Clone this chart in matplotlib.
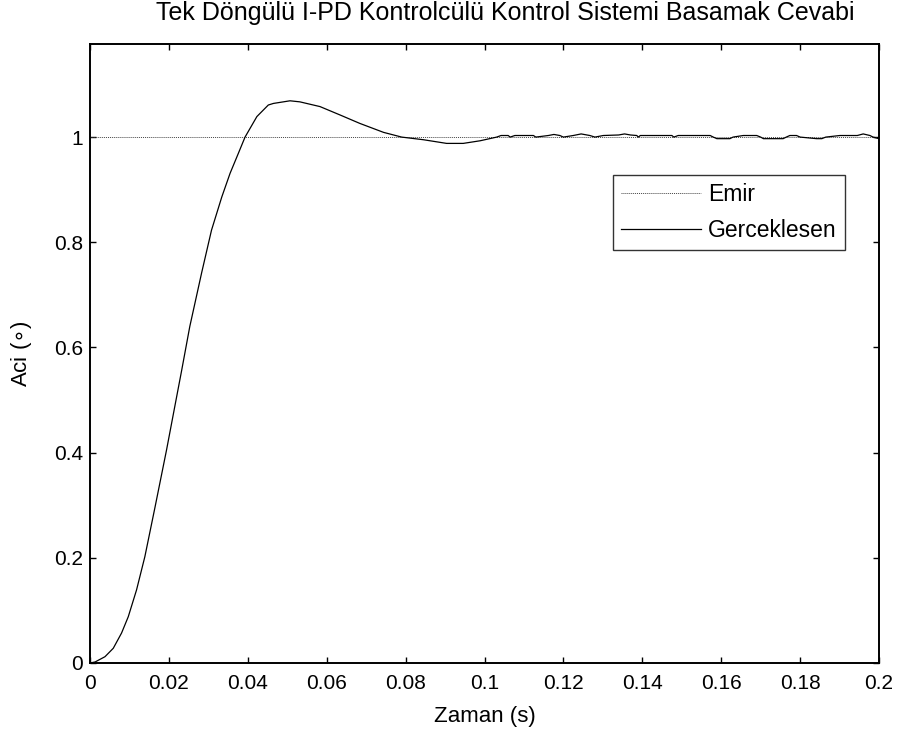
import matplotlib.pyplot as plt
from matplotlib.ticker import FormatStrFormatter

plt.rcParams['font.family'] = ['Liberation Sans', 'DejaVu Sans']

# emir (referans) sinyali
emir_t = [0, 0.2]
emir_v = [1, 1]

# gerceklesen cevap, grafikten okunan noktalar
cevap_t = [0, 0.0013, 0.0038, 0.0059, 0.008, 0.0097, 0.0118, 0.0139, 0.0165,
           0.0194, 0.0215, 0.0232, 0.0253, 0.0283, 0.0308, 0.0334, 0.0355,
           0.0376, 0.0393, 0.0423, 0.0452, 0.0465, 0.0507, 0.0532, 0.0583,
           0.0634, 0.0684, 0.0744, 0.079, 0.0845, 0.0904, 0.0946, 0.0989,
           0.1031, 0.1042, 0.106, 0.1065, 0.1077, 0.1124, 0.113, 0.1162,
           0.1176, 0.1191, 0.12, 0.1225, 0.1245, 0.1267, 0.128, 0.1301,
           0.134, 0.1355, 0.137, 0.1386, 0.139, 0.1395, 0.1475, 0.148,
           0.1491, 0.1572, 0.158, 0.1589, 0.1622, 0.163, 0.1656, 0.169,
           0.17, 0.1707, 0.1757, 0.1765, 0.1774, 0.1791, 0.18, 0.1842,
           0.1855, 0.1865, 0.1901, 0.1945, 0.196, 0.1977, 0.1985, 0.2]
cevap_v = [0, 0.002, 0.012, 0.028, 0.057, 0.088, 0.139, 0.202, 0.297,
           0.405, 0.488, 0.555, 0.640, 0.742, 0.823, 0.886, 0.931,
           0.969, 1.0, 1.039, 1.061, 1.064, 1.069, 1.067, 1.058,
           1.042, 1.026, 1.009, 1.0, 0.995, 0.988, 0.988, 0.993,
           1.0, 1.003, 1.003, 1.0, 1.003, 1.003, 1.0, 1.003,
           1.005, 1.003, 1.0, 1.003, 1.006, 1.003, 1.0, 1.003,
           1.004, 1.006, 1.004, 1.003, 1.0, 1.003, 1.003, 1.0,
           1.003, 1.003, 1.0, 0.997, 0.997, 1.0, 1.003, 1.003,
           1.0, 0.997, 0.997, 1.0, 1.003, 1.003, 1.0, 0.997,
           0.997, 1.0, 1.003, 1.003, 1.006, 1.003, 1.0, 0.997]

x_ticks = [0, 0.02, 0.04, 0.06, 0.08, 0.1, 0.12, 0.14, 0.16, 0.18, 0.2]
y_ticks = [0, 0.2, 0.4, 0.6, 0.8, 1]

fig = plt.figure(figsize=(8.99, 7.34), dpi=100)
ax = fig.add_axes([90 / 899, 71 / 734, 789 / 899, 619 / 734])

ax.plot(emir_t, emir_v, color='#444444', linestyle=(0, (1, 1)), linewidth=0.7, label='Emir')
ax.plot(cevap_t, cevap_v, color='black', linewidth=0.9, label='Gerceklesen')

ax.set_xlim(0, 0.2)
ax.set_ylim(0, 1.177)
ax.set_xticks(x_ticks)
ax.set_yticks(y_ticks)
ax.xaxis.set_major_formatter(FormatStrFormatter('%g'))
ax.yaxis.set_major_formatter(FormatStrFormatter('%g'))
ax.tick_params(direction='in', top=True, right=True, length=4, width=1, labelsize=15)
ax.tick_params(axis='x', pad=8)
ax.tick_params(axis='y', pad=5)
for s in ax.spines.values():
    s.set_linewidth(1.4)

ax.set_title('Tek Döngülü I-PD Kontrolcülü Kontrol Sistemi Basamak Cevabi',
             fontsize=18, pad=17, x=0.526)
ax.set_xlabel('Zaman (s)', fontsize=16, labelpad=9)
ax.set_ylabel('Aci ($\\circ$)', fontsize=16, labelpad=14)

leg = ax.legend(loc='upper right', bbox_to_anchor=(845 / 899, 1 - 175 / 734),
                bbox_transform=fig.transFigure, borderaxespad=0, fancybox=False,
                edgecolor='black', fontsize=16.5, handlelength=3.5, handletextpad=0.3,
                borderpad=0.35, labelspacing=0.55)
leg.get_frame().set_linewidth(1.0)

fig.savefig('out.png', dpi=100)
